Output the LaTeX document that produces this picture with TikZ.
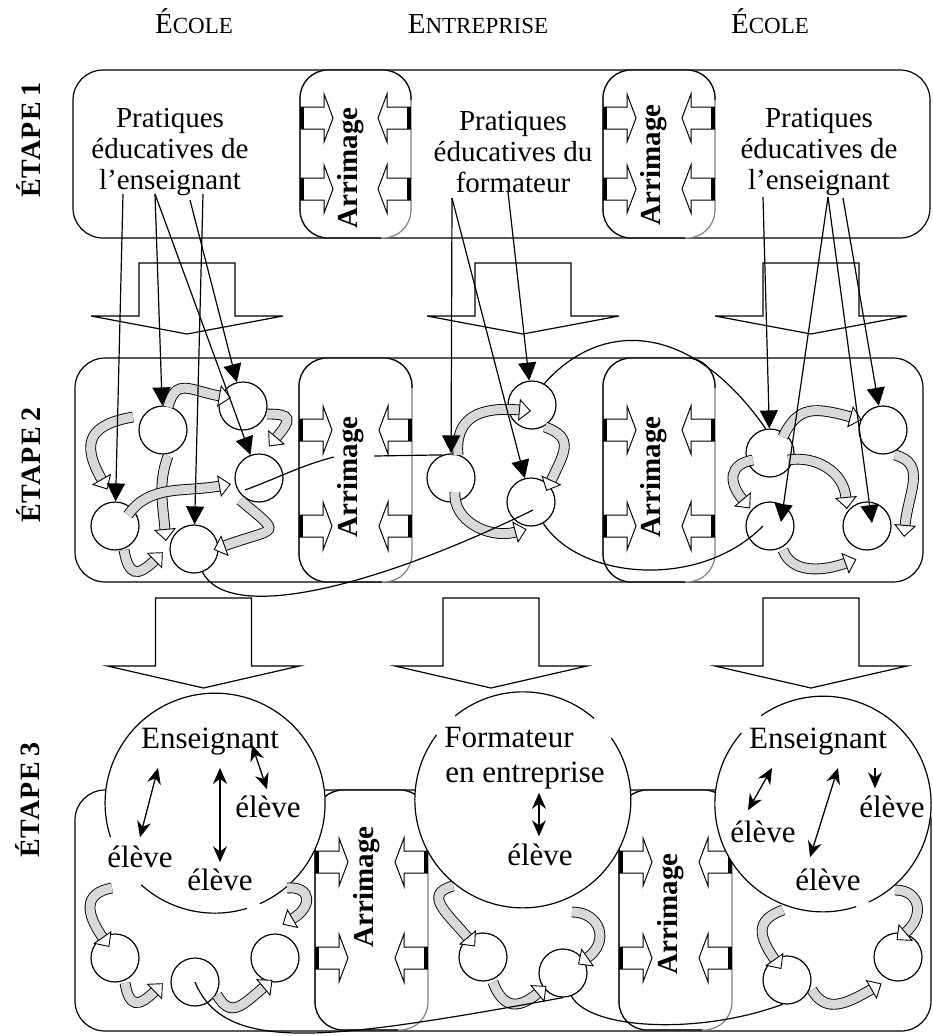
\documentclass[tikz,border=0pt]{standalone}
\usepackage{fontspec}
\setmainfont{Liberation Serif}
\usetikzlibrary{arrows.meta,calc}

\tikzset{
  etape/.style={rounded corners=30pt, line width=1.2pt},
  rond/.style={circle, draw, fill=white, line width=1.2pt, minimum size=48pt, inner sep=0pt},
  fleche/.style={line width=1.2pt, -{Triangle[width=18pt,length=18pt]}},
  duo/.style={line width=1.3pt, {Stealth[width=14pt,length=16pt]}-{Stealth[width=14pt,length=16pt]}},
  simple/.style={line width=1.3pt, -{Stealth[width=14pt,length=16pt]}},
  lien/.style={line width=1.2pt},
  bande/.style={draw=black, double=gray!30, double distance=9pt, line width=0.9pt},
  pointe/.style={line width=0.9pt, -{Triangle[fill=white,width=22pt,length=12pt]}},
  texte/.style={font=\fontsize{29}{31}\selectfont, align=center},
  mot/.style={font=\fontsize{31}{35}\selectfont, anchor=base, inner sep=2pt},
  titre/.style={font=\fontsize{29}{29}\selectfont, anchor=base},
  arr/.style={font=\bfseries\fontsize{29}{29}\selectfont, rotate=90},
  etiq/.style={rotate=90, font={\bfseries\fontsize{28}{28}\selectfont\addfontfeature{LetterSpace=4}}},
}

% big block arrow pointing down: centre x, top, wings, tip
\newcommand{\descente}[4]{%
  \draw[lien, fill=white] (#1-48,#2) -- (#1+48,#2) -- (#1+48,#3) -- (#1+96,#3)
    -- (#1,#4) -- (#1-96,#3) -- (#1-48,#3) -- cycle;}

% small block arrow on the side of an Arrimage box: edge x, y, direction
\newcommand{\poussee}[3]{%
  \begin{scope}[shift={(#1,#2)}, xscale=#3]
    \draw[line width=1pt, fill=white] (0,-11) -- (24,-11) -- (24,-24) -- (33,0)
      -- (24,24) -- (24,11) -- (0,11);
    \draw[line width=4pt] (2,-11) -- (2,11);
  \end{scope}}

% Arrimage box: name, left, top, right, bottom, text y, arrow y, arrow y
\newcommand{\arrimage}[8]{%
  \draw[gray, line width=1.2pt, fill=white, rounded corners=28pt] (#2,#3) rectangle (#4,#5);
  \draw[lien, rounded corners=28pt] (#4-30,#5) -| (#2,#3) -| (#4,#3+30);
  \node[arr] (#1) at ({(#2+#4)/2-5},#6) {Arrimage};
  \poussee{#2}{#7}{1} \poussee{#2}{#8}{1}
  \poussee{#4}{#7}{-1} \poussee{#4}{#8}{-1}}

% curved grey arrow: [looseness] start, end, out, in
\newcommand{\ruban}[5][1]{%
  \draw[bande] (#2) to[out=#4,in=#5,looseness=#1] (#3);
  \draw[pointe] (#3) -- ($(#3)+(#5+180:11pt)$);}

\begin{document}
\begin{tikzpicture}[x=1pt,y=-1pt]
\useasboundingbox (0,0) rectangle (932,1036);

% titles
\node[titre] (ecole1) at (194,33) {É{\fontsize{23}{23}\selectfont COLE}};
\node[titre] (entreprise) at (478,33) {E{\fontsize{23}{23}\selectfont NTREPRISE}};
\node[titre] (ecole2) at (770,33) {É{\fontsize{23}{23}\selectfont COLE}};
\node[etiq] (etape1) at (28,140) {ÉTAPE\hspace{6pt}1};
\node[etiq] (etape2) at (28,465) {ÉTAPE\hspace{6pt}2};
\node[etiq] (etape3) at (28,800) {ÉTAPE\hspace{6pt}3};

% the three stages
\draw[etape] (73,70) rectangle (930,238);
\draw[etape] (75,358) rectangle (923,582);
\draw[etape] (75,790) rectangle (931,1031);

\arrimage{a1}{300}{70}{411}{238}{168}{118}{189}
\arrimage{a2}{603}{70}{715}{238}{165}{118}{189}
\arrimage{a3}{299}{358}{412}{582}{477}{430}{526}
\arrimage{a4}{603}{358}{715}{582}{477}{430}{526}
\arrimage{a5}{315}{790}{428}{1030}{887}{862}{958}
\arrimage{a6}{619}{790}{732}{1030}{914}{862}{958}

\node[texte] (t1) at (170,152) {Pratiques\\éducatives de\\l'enseignant};
\node[texte] (t2) at (513,152) {Pratiques\\éducatives du\\formateur};
\node[texte] (t3) at (819,152) {Pratiques\\éducatives de\\l'enseignant};

\foreach \x in {187,523,811} {\descente{\x}{263}{316}{334}}
\foreach \x in {203.5,491,811} {\descente{\x}{598}{666}{688}}

% stage 3 big circles
\node[circle, fill=white, inner sep=0pt, minimum size=220pt] (g1) at (215,803) {};
\node[circle, fill=white, inner sep=0pt, minimum size=216pt] (g2) at (523,800) {};
\node[circle, fill=white, inner sep=0pt, minimum size=216pt] (g3) at (823,804) {};
\draw[lien] (g1.-66) arc[start angle=-66, end angle=198, radius=110pt];
\draw[lien] (g1.228) arc[start angle=228, end angle=287, radius=110pt];
\draw[lien] (g2.49) arc[start angle=49, end angle=129, radius=108pt];
\draw[lien] (g2.143) arc[start angle=143, end angle=395, radius=108pt];
\draw[lien] (g3.-65) arc[start angle=-65, end angle=125, radius=108pt];
\draw[lien] (g3.139) arc[start angle=139, end angle=288, radius=108pt];

\node[mot] (e1) at (210,748) {Enseignant};
\node[mot] (l1) at (140,867) {élève};
\node[mot] (l2) at (220,890) {élève};
\node[mot] (l3) at (268,817) {élève};
\node[mot] (f1) at (509,747) {Formateur};
\node[mot] (f2) at (525,782) {en entreprise};
\node[mot] (l4) at (540,865) {élève};
\node[mot] (e2) at (818,748) {Enseignant};
\node[mot] (l5) at (763,842) {élève};
\node[mot] (l6) at (828,890) {élève};
\node[mot] (l7) at (892,817) {élève};

\draw[duo] ([shift={(-52,11)}]e1.south) -- ([shift={(0,-6)}]l1.north);
\draw[duo] ([shift={(10,11)}]e1.south) -- ([shift={(0,-4)}]l2.north);
\draw[duo] ([shift={(42,-12)}]e1.south) -- ([shift={(-1,-4)}]l3.north);
\draw[duo] ([shift={(14,2)}]f2.south) -- ([shift={(-1,-5)}]l4.north);
\draw[duo] ([shift={(-46,11)}]e2.south) -- ([shift={(-15,-8)}]l5.north);
\draw[duo] ([shift={(20,11)}]e2.south) -- ([shift={(-18,-9)}]l6.north);
\draw[simple] ([shift={(57,11)}]e2.south) -- ([shift={(-17,-5)}]l7.north);

% small circles
\node[rond] (c1) at (163,430) {};
\node[rond] (c2) at (243,406) {};
\node[rond] (c3) at (259,478) {};
\node[rond] (c4) at (115,526) {};
\node[rond] (c5) at (194,549) {};
\node[rond] (m1) at (532,405) {};
\node[rond] (m2) at (531,502) {};
\node[rond] (m3) at (451,478) {};
\node[rond] (r1) at (770,453) {};
\node[rond] (r2) at (883,430) {};
\node[rond] (r3) at (770,526) {};
\node[rond] (r4) at (867,526) {};
\node[rond] (s1) at (115,958) {};
\node[rond] (s2) at (195,982) {};
\node[rond] (s3) at (275,958) {};
\node[rond] (s4) at (483,957) {};
\node[rond] (s5) at (563,973) {};
\node[rond] (s6) at (787,980) {};
\node[rond] (s7) at (898,957) {};

% grey curved arrows, stage 2
\ruban[1.5]{168,407}{220,396}{75}{170}
\ruban[2.5]{267,414}{276,438}{0}{50}
\ruban[1.6]{133,417}{102,480}{190}{120}
\ruban{168,456}{165,530}{250}{95}
\ruban{128,515}{220,486}{55}{190}
\ruban[3]{240,500}{224,546}{-40}{20}
\ruban[2]{124,550}{155,560}{-80}{225}
\ruban[1.3]{458,455}{520,410}{95}{175}
\ruban[1.5]{545,427}{551,481}{-20}{65}
\ruban{455,492}{516,532}{-95}{195}
\ruban[1.3]{783,437}{851,417}{65}{165}
\ruban[1.2]{895,455}{905,526}{-15}{85}
\ruban{788,460}{846,498}{10}{95}
\ruban[1.5]{753,460}{743,500}{190}{130}
\ruban{783,550}{846,563}{-70}{200}
% stage 3
\ruban[1.5]{112,888}{103,938}{190}{125}
\ruban[2]{125,983}{155,991}{-80}{225}
\ruban[1.5]{217,995}{264,987}{-60}{220}
\ruban[2]{287,888}{292,919}{5}{30}
\ruban[1.5]{453,886}{468,938}{195}{130}
\ruban[1.5]{493,982}{538,993}{-70}{220}
\ruban[1.5]{572,912}{587,958}{0}{35}
\ruban[1.5]{783,910}{775,960}{200}{125}
\ruban[1.2]{812,990}{872,989}{-60}{210}
\ruban[1.5]{895,890}{905,933}{0}{40}

% from the practices to the circles
\coordinate (d1) at (123,194);
\coordinate (d2) at (155,194);
\coordinate (d3) at (190,200);
\coordinate (d4) at (203,194);
\coordinate (d5) at (452,198);
\coordinate (d6) at (508,192);
\coordinate (d7) at (763,197);
\coordinate (d8) at (828,197);
\coordinate (d9) at (843,198);
\draw[fleche] (d1) -- (c4);
\draw[fleche] (d2) -- (c1);
\draw[fleche] (d2) -- (c3);
\draw[fleche] (d3) -- (c2);
\draw[fleche] (d4) -- (c5);
\draw[fleche] (d5) -- (m3);
\draw[fleche] (d5) -- (m2);
\draw[fleche] (d6) -- (m1);
\draw[fleche] (d7) -- (r1);
\draw[fleche] (d8) -- ([shift={(11,-4)}]r3.center);
\draw[fleche] (d8) -- ([shift={(5,-3)}]r4.center);
\draw[fleche] (d9) -- (r2);

% links
\draw[lien] ([shift={(0,-20)}]a3.north) to[out=195,in=20] ([shift={(-14,12)}]c3.center);
\draw[lien] ([shift={(7,-21)}]a3.south) -- (m3.110);
\draw[lien] (c5.-70) .. controls (230,625) and (380,585) .. ([shift={(2,8)}]m2.center);
\draw[lien] (m1.60) .. controls (600,320) and (690,320) .. (r1.100);
\draw[lien] (m2.-60) .. controls (580,580) and (700,590) .. ([xshift=-7pt]r3.center);
\draw[lien] (s2.center) .. controls (225,1055) and (330,1040) .. (s5.-90);
\draw[lien] (s5.-70) .. controls (590,1030) and (700,1035) .. (s6.-100);
\end{tikzpicture}
\end{document}
